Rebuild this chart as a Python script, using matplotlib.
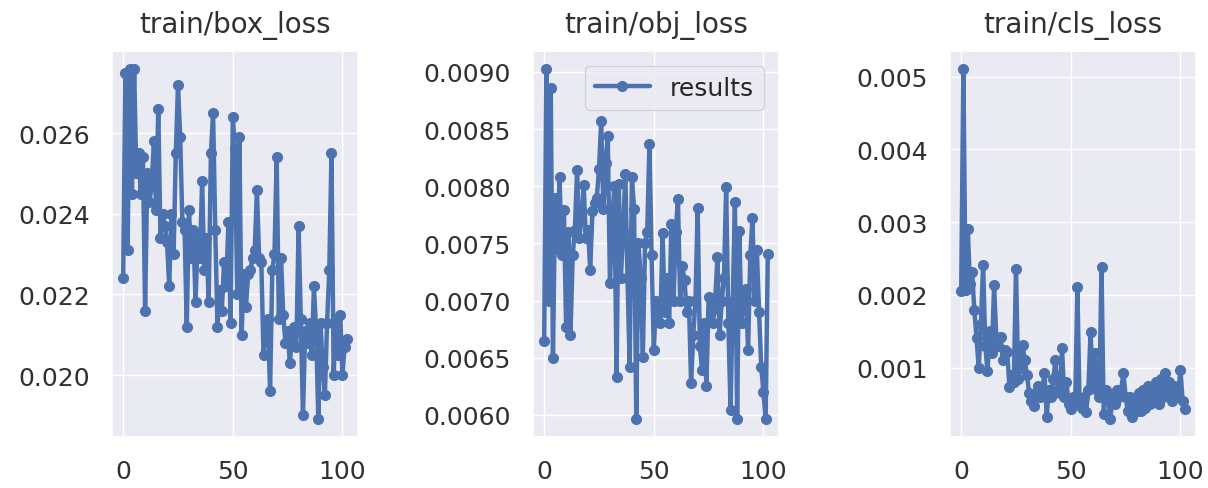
import numpy as np
import matplotlib
matplotlib.use('Agg')
import matplotlib.pyplot as plt
import seaborn as sns

# wartości (epoki 0..102)
box_loss = [
    0.0224, 0.0275, 0.0231, 0.0276, 0.0245, 0.0276, 0.0250, 0.0255, 0.0245, 0.0254,
    0.0216, 0.0250, 0.0243, 0.0247, 0.0258, 0.0241, 0.0266, 0.0234, 0.0240, 0.0237,
    0.0233, 0.0222, 0.0240, 0.0230, 0.0255, 0.0272, 0.0259, 0.0238, 0.0236, 0.0212,
    0.0241, 0.0229, 0.0236, 0.0218, 0.0234, 0.0229, 0.0248, 0.0226, 0.0234, 0.0218,
    0.0255, 0.0265, 0.0236, 0.0212, 0.0221, 0.0216, 0.0228, 0.0222, 0.0238, 0.0213,
    0.0264, 0.0256, 0.0220, 0.0259, 0.0210, 0.0225, 0.0217, 0.0225, 0.0226, 0.0229,
    0.0231, 0.0246, 0.0229, 0.0228, 0.0205, 0.0211, 0.0214, 0.0196, 0.0226, 0.0230,
    0.0254, 0.0214, 0.0229, 0.0215, 0.0208, 0.0211, 0.0203, 0.0209, 0.0212, 0.0207,
    0.0237, 0.0214, 0.0190, 0.0211, 0.0208, 0.0213, 0.0205, 0.0222, 0.0211, 0.0189,
    0.0213, 0.0202, 0.0195, 0.0213, 0.0226, 0.0255, 0.0200, 0.0214, 0.0205, 0.0215,
    0.0200, 0.0207, 0.0209,
]

obj_loss = [
    0.00665, 0.00903, 0.00700, 0.00886, 0.00650, 0.00790, 0.00745, 0.00808, 0.00740, 0.00779,
    0.00677, 0.00760, 0.00670, 0.00740, 0.00762, 0.00814, 0.00755, 0.00770, 0.00801, 0.00755,
    0.00762, 0.00727, 0.00778, 0.00785, 0.00790, 0.00815, 0.00857, 0.00780, 0.00820, 0.00844,
    0.00715, 0.00770, 0.00800, 0.00633, 0.00802, 0.00720, 0.00760, 0.00811, 0.00720, 0.00642,
    0.00808, 0.00780, 0.00596, 0.00750, 0.00720, 0.00651, 0.00750, 0.00760, 0.00837, 0.00740,
    0.00657, 0.00700, 0.00690, 0.00680, 0.00759, 0.00690, 0.00720, 0.00680, 0.00767, 0.00700,
    0.00760, 0.00789, 0.00700, 0.00730, 0.00718, 0.00690, 0.00700, 0.00628, 0.00670, 0.00700,
    0.00781, 0.00660, 0.00639, 0.00680, 0.00625, 0.00703, 0.00690, 0.00680, 0.00700, 0.00738,
    0.00670, 0.00700, 0.00720, 0.00799, 0.00680, 0.00604, 0.00700, 0.00786, 0.00596, 0.00761,
    0.00680, 0.00700, 0.00710, 0.00657, 0.00740, 0.00772, 0.00700, 0.00744, 0.00690, 0.00642,
    0.00620, 0.00596, 0.00741,
]

cls_loss = [
    0.00205, 0.00511, 0.00207, 0.00291, 0.00215, 0.00231, 0.00179, 0.00141, 0.00100, 0.00160,
    0.00241, 0.00130, 0.00095, 0.00150, 0.00120, 0.00213, 0.00142, 0.00130, 0.00142, 0.00110,
    0.00125, 0.00122, 0.00074, 0.00090, 0.00080, 0.00236, 0.00085, 0.00100, 0.00131, 0.00111,
    0.00090, 0.00065, 0.00055, 0.00047, 0.00065, 0.00075, 0.00060, 0.00070, 0.00093, 0.00033,
    0.00070, 0.00060, 0.00085, 0.00111, 0.00070, 0.00065, 0.00127, 0.00060, 0.00080, 0.00050,
    0.00043, 0.00060, 0.00050, 0.00211, 0.00050, 0.00045, 0.00060, 0.00039, 0.00070, 0.00149,
    0.00080, 0.00120, 0.00070, 0.00060, 0.00238, 0.00036, 0.00070, 0.00060, 0.00029, 0.00060,
    0.00050, 0.00070, 0.00060, 0.00070, 0.00093, 0.00060, 0.00040, 0.00060, 0.00033, 0.00055,
    0.00040, 0.00065, 0.00040, 0.00070, 0.00045, 0.00075, 0.00050, 0.00070, 0.00060, 0.00080,
    0.00050, 0.00085, 0.00060, 0.00093, 0.00070, 0.00080, 0.00055, 0.00075, 0.00060, 0.00065,
    0.00097, 0.00055, 0.00043,
]

titles = ['train/box_loss', 'train/obj_loss', 'train/cls_loss']
yticks = [
    [0.020, 0.022, 0.024, 0.026],
    [0.0060, 0.0065, 0.0070, 0.0075, 0.0080, 0.0085, 0.0090],
    [0.001, 0.002, 0.003, 0.004, 0.005],
]
yfmt = ['%.3f', '%.4f', '%.3f']

sns.set_theme(style='darkgrid')
plt.rcParams['font.family'] = ['DejaVu Sans']

fig = plt.figure(figsize=(12.08, 4.89), dpi=100)
lefts = [112 / 1208, 533 / 1208, 950 / 1208]
width = 246 / 1208
bottom = 51 / 489
height = 386 / 489

serie = [box_loss, obj_loss, cls_loss]
for i in range(3):
    ax = fig.add_axes([lefts[i], bottom, width, height])
    y = serie[i]
    x = np.arange(len(y))
    ax.plot(x, y, marker='o', color='#4C72B0', linewidth=3.2, markersize=7, label='results')
    ax.set_title(titles[i], fontsize=20, pad=14, color='#303030')
    ax.set_xticks([0, 50, 100])
    ax.set_yticks(yticks[i])
    ax.yaxis.set_major_formatter(matplotlib.ticker.FormatStrFormatter(yfmt[i]))
    ax.tick_params(labelsize=18, colors='#303030', pad=10)
    if i == 1:
        ax.legend(loc='upper right', fontsize=18, handlelength=2.2, borderaxespad=0.6)

fig.savefig('out.png', dpi=100)
